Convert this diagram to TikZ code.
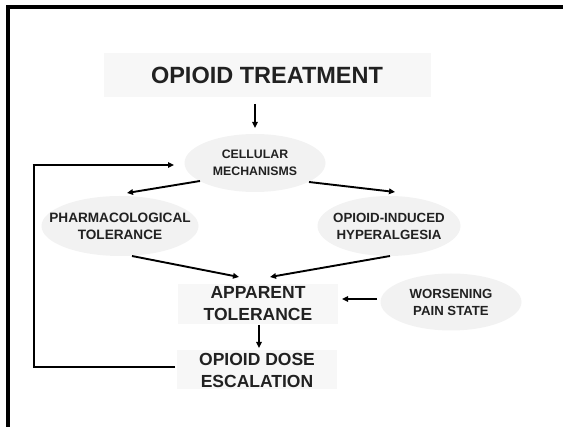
\documentclass[tikz,border=0pt]{standalone}
\usepackage{fontspec}
\setmainfont{Liberation Sans}
\usetikzlibrary{arrows.meta,shapes.geometric}
\definecolor{boxfill}{HTML}{F7F7F7}
\definecolor{ellfill}{HTML}{F2F2F2}
\begin{document}
\begin{tikzpicture}[x=1pt,y=-1pt,
  txt/.style={font=\bfseries, text=black!87, align=center, inner sep=0pt},
  flowbox/.style={txt, fill=boxfill, draw=none},
  cloud/.style={txt, ellipse, fill=ellfill, draw=none, inner sep=-30pt},
  arr/.style={-{Triangle[length=6pt,width=5.5pt]}, line width=1.9pt},
  loopline/.style={line width=2.8pt}
]
\useasboundingbox (0,0) rectangle (563,427);
% slide frame
\draw[line width=3.5pt] (8,430) -- (8,7) -- (566,7);

% boxes
\node[flowbox, minimum width=327pt, minimum height=44pt, font=\bfseries\fontsize{23.5}{24}\selectfont]
  (treat) at (267,75) {OPIOID TREATMENT};
\node[flowbox, minimum width=160pt, minimum height=40pt, font=\bfseries\fontsize{17.5}{22}\selectfont]
  (app) at (258,304) {APPARENT\\TOLERANCE};
\node[flowbox, minimum width=160pt, minimum height=39pt, font=\bfseries\fontsize{17.5}{22}\selectfont]
  (dose) at (257,370) {OPIOID DOSE\\ESCALATION};

% ellipses
\node[cloud, minimum width=141pt, minimum height=58pt, font=\bfseries\fontsize{12.3}{17}\selectfont]
  (cell) at (255,163) {CELLULAR\\MECHANISMS};
\node[cloud, minimum width=157pt, minimum height=60pt, font=\bfseries\fontsize{13.6}{17}\selectfont]
  (pharm) at (120,226) {PHARMACOLOGICAL\\TOLERANCE};
\node[cloud, minimum width=143pt, minimum height=60pt, font=\bfseries\fontsize{13.3}{17}\selectfont]
  (oih) at (389,226) {OPIOID-INDUCED\\HYPERALGESIA};
\node[cloud, minimum width=141pt, minimum height=57pt, font=\bfseries\fontsize{13.2}{17}\selectfont]
  (worse) at (451,302) {WORSENING\\PAIN STATE};

% connector end points
\coordinate (t1) at (255,104);
\coordinate (c1) at (255,128);
\coordinate (cl) at (200,181);
\coordinate (pl) at (127,193);
\coordinate (cr) at (309,182);
\coordinate (pr) at (395,192);
\coordinate (pb) at (132,256);
\coordinate (al) at (239,277);
\coordinate (ob) at (390,256);
\coordinate (ar) at (270,277);
\coordinate (wl) at (377,299);
\coordinate (ae) at (342,299);
\coordinate (ab) at (259,325);
\coordinate (dt) at (259,348);
\coordinate (dl) at (175,367);
\coordinate (lb) at (34,367);
\coordinate (lt) at (34,165);
\coordinate (ce) at (174,165);

\draw[arr] (t1) -- (c1);
\draw[arr] (cl) -- (pl);
\draw[arr] (cr) -- (pr);
\draw[arr] (pb) -- (al);
\draw[arr] (ob) -- (ar);
\draw[arr] (wl) -- (ae);
\draw[arr, line width=1.4pt] (ab) -- (dt);
\draw[loopline] (dl) -- (lb) -- (lt);
\draw[arr] ([xshift=-1.4pt]lt) -- (ce);
\end{tikzpicture}
\end{document}
